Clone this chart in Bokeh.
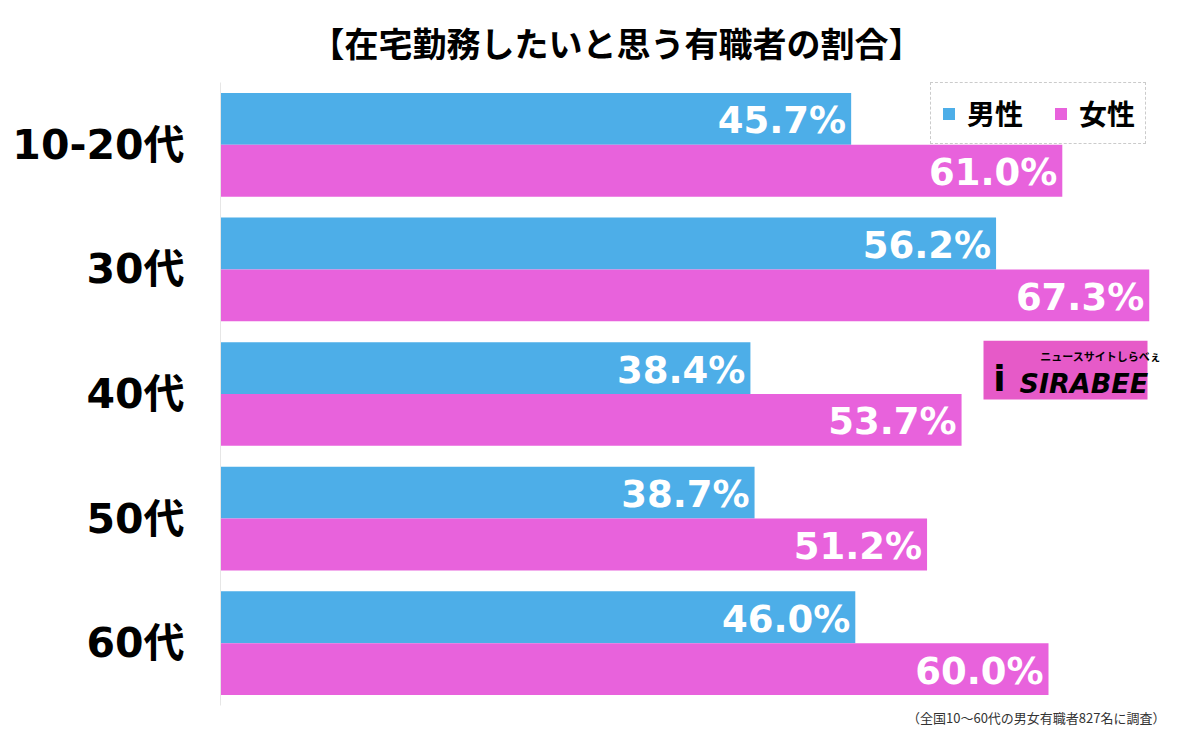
from bokeh.plotting import figure
from bokeh.models import ColumnDataSource, FactorRange, Range1d, Legend, LegendItem, Title
from bokeh.transform import dodge
from bokeh.core.properties import value
from bokeh.embed import file_html
from bokeh.resources import INLINE

categories = ["10-20代", "30代", "40代", "50代", "60代"]
male = [45.7, 56.2, 38.4, 38.7, 46.0]
female = [61.0, 67.3, 53.7, 51.2, 60.0]
series_names = ["男性", "女性"]
title_text = "【在宅勤務したいと思う有職者の割合】"
note_text = "（全国10～60代の男女有職者827名に調査）"

BLUE = "#4daee8"
PINK = "#e862dc"
LOGO_PINK = "#e65ac8"
NUM_FONT = "DejaVu Sans, Noto Sans CJK JP, sans-serif"
JP_FONT = "Noto Sans CJK JP"

src = ColumnDataSource(dict(
    cat=categories,
    male=male,
    female=female,
    male_lbl=[f"{v:.1f}%" for v in male],
    female_lbl=[f"{v:.1f}%" for v in female],
))

W, H = 1169, 726
LEFT = 220
TOP, BOTTOM = 82, 19
FRAME_H = H - TOP - BOTTOM
GROUP = FRAME_H / 5
PX = 13.8  # pixels per percent

p = figure(
    width=W, height=H,
    y_range=FactorRange(factors=list(reversed(categories)), range_padding=0),
    x_range=Range1d(0, (W - LEFT) / PX),
    output_backend="svg", toolbar_location=None,
    x_axis_location=None,
    min_border_left=LEFT, min_border_right=0,
    min_border_top=TOP, min_border_bottom=BOTTOM,
)
p.outline_line_color = None
p.xgrid.visible = False
p.ygrid.visible = False
p.background_fill_color = "white"
p.border_fill_color = "white"

bar_h = 52 / GROUP
off = bar_h / 2
rm = p.hbar(y=dodge("cat", off, range=p.y_range), right="male", left=0, height=bar_h,
            source=src, fill_color=BLUE, line_color=None)
rf = p.hbar(y=dodge("cat", -off, range=p.y_range), right="female", left=0, height=bar_h,
            source=src, fill_color=PINK, line_color=None)

for col, o in (("male", off), ("female", -off)):
    p.text(x=col, y=dodge("cat", o, range=p.y_range), text=col + "_lbl", source=src,
           text_align="right", text_baseline="middle", x_offset=-5, y_offset=2,
           text_color="white", text_font=value(NUM_FONT), text_font_style="bold",
           text_font_size="37px")

ax = p.yaxis[0]
ax.axis_line_color = "#e6e6e6"
ax.axis_line_width = 1
ax.major_tick_line_color = None
ax.minor_tick_line_color = None
ax.major_label_text_font = NUM_FONT
ax.major_label_text_font_style = "bold"
ax.major_label_text_font_size = "41px"
ax.major_label_text_color = "black"
ax.major_label_standoff = 30

# Logo (decorative)
logo_c = (TOP + 2.5 * GROUP - 370.5) / GROUP
logo_src = ColumnDataSource(dict(cat=["40代"]))
p.rect(x=(1065 - LEFT) / PX, y=dodge("cat", logo_c, range=p.y_range), width=164 / PX, height=59 / GROUP,
       source=logo_src, fill_color=LOGO_PINK, line_color=None)
p.text(x=57.9, y=dodge("cat", logo_c - 13 / GROUP, range=p.y_range), text=value("SIRABEE"), source=logo_src,
       text_align="left", text_baseline="middle", text_color="black",
       text_font=value("DejaVu Sans"), text_font_style="bold italic", text_font_size="27px")
p.text(x=59.4, y=dodge("cat", logo_c + 14 / GROUP, range=p.y_range), text=value("ニュースサイトしらべぇ"), source=logo_src,
       text_align="left", text_baseline="middle", text_color="black",
       text_font=value(JP_FONT), text_font_style="bold", text_font_size="11px")
p.text(x=56.0, y=dodge("cat", logo_c - 8 / GROUP, range=p.y_range), text=value("i"), source=logo_src,
       text_align="left", text_baseline="middle", text_color="black",
       text_font=value("DejaVu Sans"), text_font_style="bold", text_font_size="36px")

legend = Legend(
    items=[LegendItem(label=series_names[0], renderers=[rm]),
           LegendItem(label=series_names[1], renderers=[rf])],
    location=(710, FRAME_H - 64), orientation="horizontal",
    label_text_font=JP_FONT, label_text_font_style="bold", label_text_font_size="28px",
    label_text_color="black", glyph_width=15, glyph_height=15, label_standoff=11,
    spacing=30, padding=10, margin=0,
    border_line_color="#999999", border_line_dash="dotted", border_line_width=1,
    background_fill_color="white", background_fill_alpha=1,
)
p.add_layout(legend, "center")

p.title = Title(text=title_text, align="left", offset=90,
                text_font=JP_FONT, text_font_style="bold", text_font_size="34px",
                text_color="black", standoff=31)

p.add_layout(Title(text=note_text, align="right", offset=4,
                   text_font=JP_FONT, text_font_style="normal", text_font_size="13px",
                   text_color="#333333", standoff=0), "below")

open("out.html", "w").write(file_html(p, INLINE))
